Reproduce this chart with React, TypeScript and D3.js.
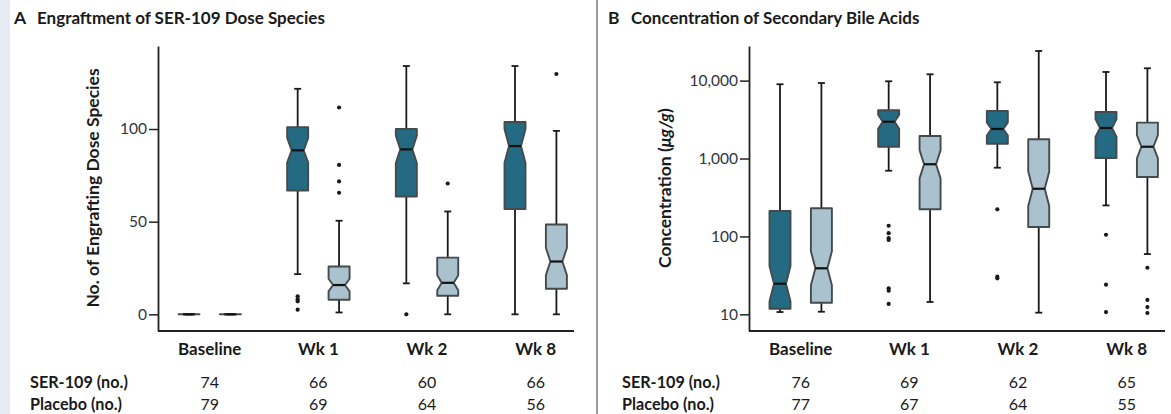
import * as d3 from 'd3';
import React, { useEffect, useRef } from 'react';

const categories = ['Baseline', 'Wk 1', 'Wk 2', 'Wk 8'];
const arms = ['SER-109', 'Placebo'];

// each entry: [whisker low, Q1, median, Q3, whisker high]
const serEngraft = [
  [0, 0, 0, 0, 0],
  [21.7, 66.8, 88.5, 101, 121.7],
  [16.7, 63.6, 89, 100, 134],
  [0, 56.8, 90.8, 103.8, 134],
];
const placeboEngraft = [
  [0, 0, 0, 0, 0],
  [1, 7.9, 15.8, 25.8, 50.5],
  [0, 10, 17, 30.6, 55.5],
  [0, 13.8, 28.5, 48.5, 99],
];
const serEngraftOutliers = [[], [9.7, 8.2, 7, 2.5], [0], []];
const placeboEngraftOutliers = [[], [111.6, 80.6, 71.7, 65.6], [70.6], [129.7]];
const serEngraftN = [74, 66, 60, 66];
const placeboEngraftN = [79, 69, 64, 56];

const serBile = [
  [10.7, 11.8, 24.7, 212, 8980],
  [697, 1416, 2965, 4160, 9800],
  [762, 1550, 2395, 4070, 9510],
  [250, 1014, 2465, 3950, 12900],
];
const placeboBile = [
  [10.8, 14.1, 39, 230, 9310],
  [14.4, 223, 844, 1945, 12050],
  [10.5, 132, 409, 1763, 24000],
  [59.4, 579, 1416, 2885, 14400],
];
const serBileOutliers = [[], [137, 110, 95, 90, 21.6, 20.1, 13.6], [223, 30.4, 29], [105, 24, 10.7]];
const placeboBileOutliers = [[], [], [], [39.6, 15.3, 12.4, 10.4]];
const serBileN = [76, 69, 62, 65];
const placeboBileN = [77, 67, 64, 55];

const engraftTicks = [0, 50, 100];
const bileTicks = [10, 100, 1000, 10000];

const FONT = 'Lato, "Open Sans", sans-serif';
const SER_FILL = '#236a82';
const PLACEBO_FILL = '#a9c2ce';
const TOP = 46;
const BOTTOM = 331;

type PanelCfg = {
  left: number;
  letterX: number;
  letter: string;
  title: string;
  yLabel: (t: d3.Selection<SVGTextElement, unknown, null, undefined>) => void;
  yLabelX: number;
  rowLabelX: number;
  log: boolean;
  y: d3.ScaleContinuousNumeric<number, number>;
  ticks: number[];
  fmt: (v: number) => string;
  stats: number[][][];
  outliers: number[][][];
  counts: number[][];
};

function drawPanel(svg: d3.Selection<SVGSVGElement, unknown, null, undefined>, cfg: PanelCfg) {
  const { left, y, log } = cfg;
  const g = svg.append('g').style('font-family', FONT);

  const x = d3.scalePoint<string>().domain(categories).range([left + 51.7, left + 377.7]);
  const arm = d3.scaleBand<string>().domain(arms).range([-41.4, 41.4]);
  const boxW = 21;
  const half = boxW / 2;
  const inset = 4.5;
  const tf = log ? Math.log10 : (v: number) => v;
  const inv = log ? (v: number) => Math.pow(10, v) : (v: number) => v;

  // title
  g.append('text')
    .attr('x', cfg.letterX)
    .attr('y', 24)
    .attr('font-size', 17.5)
    .attr('font-weight', 700)
    .attr('fill', '#1a1a1a')
    .text(cfg.letter);
  g.append('text')
    .attr('x', cfg.letterX + 23)
    .attr('y', 24)
    .attr('font-size', 17)
    .attr('font-weight', 700)
    .attr('fill', '#1a1a1a')
    .text(cfg.title);

  // y axis
  const yAxis = g
    .append('g')
    .attr('transform', `translate(${left},0)`)
    .call(
      d3
        .axisLeft(y)
        .tickValues(cfg.ticks)
        .tickFormat(d => cfg.fmt(d as number))
        .tickSize(9)
        .tickSizeOuter(0)
        .tickPadding(2)
    );
  yAxis.select('.domain').attr('stroke', '#222').attr('stroke-width', 1.8);
  yAxis.selectAll('.tick line').attr('stroke', '#222').attr('stroke-width', 1.5);
  yAxis
    .selectAll('.tick text')
    .attr('font-family', FONT)
    .attr('font-size', 15.5)
    .attr('fill', '#2e3440');

  // x axis line
  g.append('line')
    .attr('x1', left)
    .attr('x2', left + 416)
    .attr('y1', BOTTOM)
    .attr('y2', BOTTOM)
    .attr('stroke', '#222')
    .attr('stroke-width', 1.8);

  // y label
  const yl = g
    .append('text')
    .attr('transform', `translate(${cfg.yLabelX},188) rotate(-90)`)
    .attr('text-anchor', 'middle')
    .attr('font-size', 17.5)
    .attr('font-weight', 700)
    .attr('fill', '#1a1a1a');
  cfg.yLabel(yl);

  // boxes
  categories.forEach((cat, i) => {
    arms.forEach((a, j) => {
      const [lo, q1, med, q3, hi] = cfg.stats[j][i];
      const cx = (x(cat) as number) + (arm(a) as number) + arm.bandwidth() / 2;
      const n = cfg.counts[j][i];
      const nh = (1.58 * (tf(q3) - tf(q1))) / Math.sqrt(n);
      const nLo = inv(tf(med) - nh);
      const nHi = inv(tf(med) + nh);

      // whiskers
      [
        [lo, q1],
        [q3, hi],
      ].forEach(([a1, a2]) => {
        g.append('line')
          .attr('x1', cx)
          .attr('x2', cx)
          .attr('y1', y(a1))
          .attr('y2', y(a2))
          .attr('stroke', '#1a1a1a')
          .attr('stroke-width', 1.8);
      });
      [lo, hi].forEach(v => {
        g.append('line')
          .attr('x1', cx - 3.5)
          .attr('x2', cx + 3.5)
          .attr('y1', y(v))
          .attr('y2', y(v))
          .attr('stroke', '#1a1a1a')
          .attr('stroke-width', 1.8);
      });

      const p = d3.path();
      p.moveTo(cx - half, y(q3));
      p.lineTo(cx + half, y(q3));
      p.lineTo(cx + half, y(nHi));
      p.lineTo(cx + half - inset, y(med));
      p.lineTo(cx + half, y(nLo));
      p.lineTo(cx + half, y(q1));
      p.lineTo(cx - half, y(q1));
      p.lineTo(cx - half, y(nLo));
      p.lineTo(cx - half + inset, y(med));
      p.lineTo(cx - half, y(nHi));
      p.closePath();
      g.append('path')
        .attr('d', p.toString())
        .attr('fill', j === 0 ? SER_FILL : PLACEBO_FILL)
        .attr('stroke', '#454a4d')
        .attr('stroke-width', 1.9)
        .attr('stroke-linejoin', 'round');

      g.append('line')
        .attr('x1', cx - half + inset)
        .attr('x2', cx + half - inset)
        .attr('y1', y(med))
        .attr('y2', y(med))
        .attr('stroke', '#111')
        .attr('stroke-width', 2.2);

      g.selectAll(null)
        .data(cfg.outliers[j][i])
        .enter()
        .append('circle')
        .attr('cx', cx)
        .attr('cy', d => y(d))
        .attr('r', 2.1)
        .attr('fill', '#1a1a1a');
    });
  });

  // category labels
  categories.forEach(cat => {
    g.append('text')
      .attr('x', x(cat) as number)
      .attr('y', 355)
      .attr('text-anchor', 'middle')
      .attr('font-size', 17)
      .attr('font-weight', 700)
      .attr('fill', '#1a1a1a')
      .text(cat);
  });

  // counts table
  arms.forEach((a, j) => {
    const rowY = j === 0 ? 388 : 410;
    g.append('text')
      .attr('x', cfg.rowLabelX)
      .attr('y', rowY)
      .attr('font-size', 16.2)
      .attr('font-weight', 700)
      .attr('fill', '#1a1a1a')
      .text(`${a} (no.)`);
    categories.forEach((cat, i) => {
      g.append('text')
        .attr('x', x(cat) as number)
        .attr('y', rowY)
        .attr('text-anchor', 'middle')
        .attr('font-size', 16)
        .attr('fill', '#1a1a1a')
        .text(cfg.counts[j][i]);
    });
  });
}

export default function App() {
  const ref = useRef<SVGSVGElement>(null);

  useEffect(() => {
    if (!ref.current) return;
    const svg = d3.select(ref.current);
    svg.selectAll('*').remove();

    // left strip and panel separator
    svg.append('rect').attr('x', 0).attr('y', 0).attr('width', 10).attr('height', 414).attr('fill', '#e6ebf3');
    svg.append('line')
      .attr('x1', 597)
      .attr('x2', 597)
      .attr('y1', 0)
      .attr('y2', 414)
      .attr('stroke', '#7a7a7a')
      .attr('stroke-width', 1.5);

    const yA = d3.scaleLinear().domain([-9, 144.8]).range([BOTTOM, TOP]);
    drawPanel(svg, {
      left: 158,
      letterX: 14,
      letter: 'A',
      title: 'Engraftment of SER-109 Dose Species',
      yLabel: t => t.text('No. of Engrafting Dose Species'),
      yLabelX: 99,
      rowLabelX: 30,
      log: false,
      y: yA,
      ticks: engraftTicks,
      fmt: v => String(v),
      stats: [serEngraft, placeboEngraft],
      outliers: [serEngraftOutliers, placeboEngraftOutliers],
      counts: [serEngraftN, placeboEngraftN],
    });

    const yB = d3.scaleLog().domain([6.11, 27800]).range([BOTTOM, TOP]);
    drawPanel(svg, {
      left: 749,
      letterX: 608,
      letter: 'B',
      title: 'Concentration of Secondary Bile Acids',
      yLabel: t => {
        t.append('tspan').text('Concentration (');
        t.append('tspan').attr('font-style', 'italic').text('\u03bcg/g');
        t.append('tspan').text(')');
      },
      yLabelX: 671,
      rowLabelX: 622,
      log: true,
      y: yB,
      ticks: bileTicks,
      fmt: d3.format(','),
      stats: [serBile, placeboBile],
      outliers: [serBileOutliers, placeboBileOutliers],
      counts: [serBileN, placeboBileN],
    });
  }, []);

  return (
    <div style={{ position: 'absolute', left: 0, top: 0, background: '#fff' }}>
      <svg ref={ref} width={1171} height={414} style={{ display: 'block' }} />
    </div>
  );
}
